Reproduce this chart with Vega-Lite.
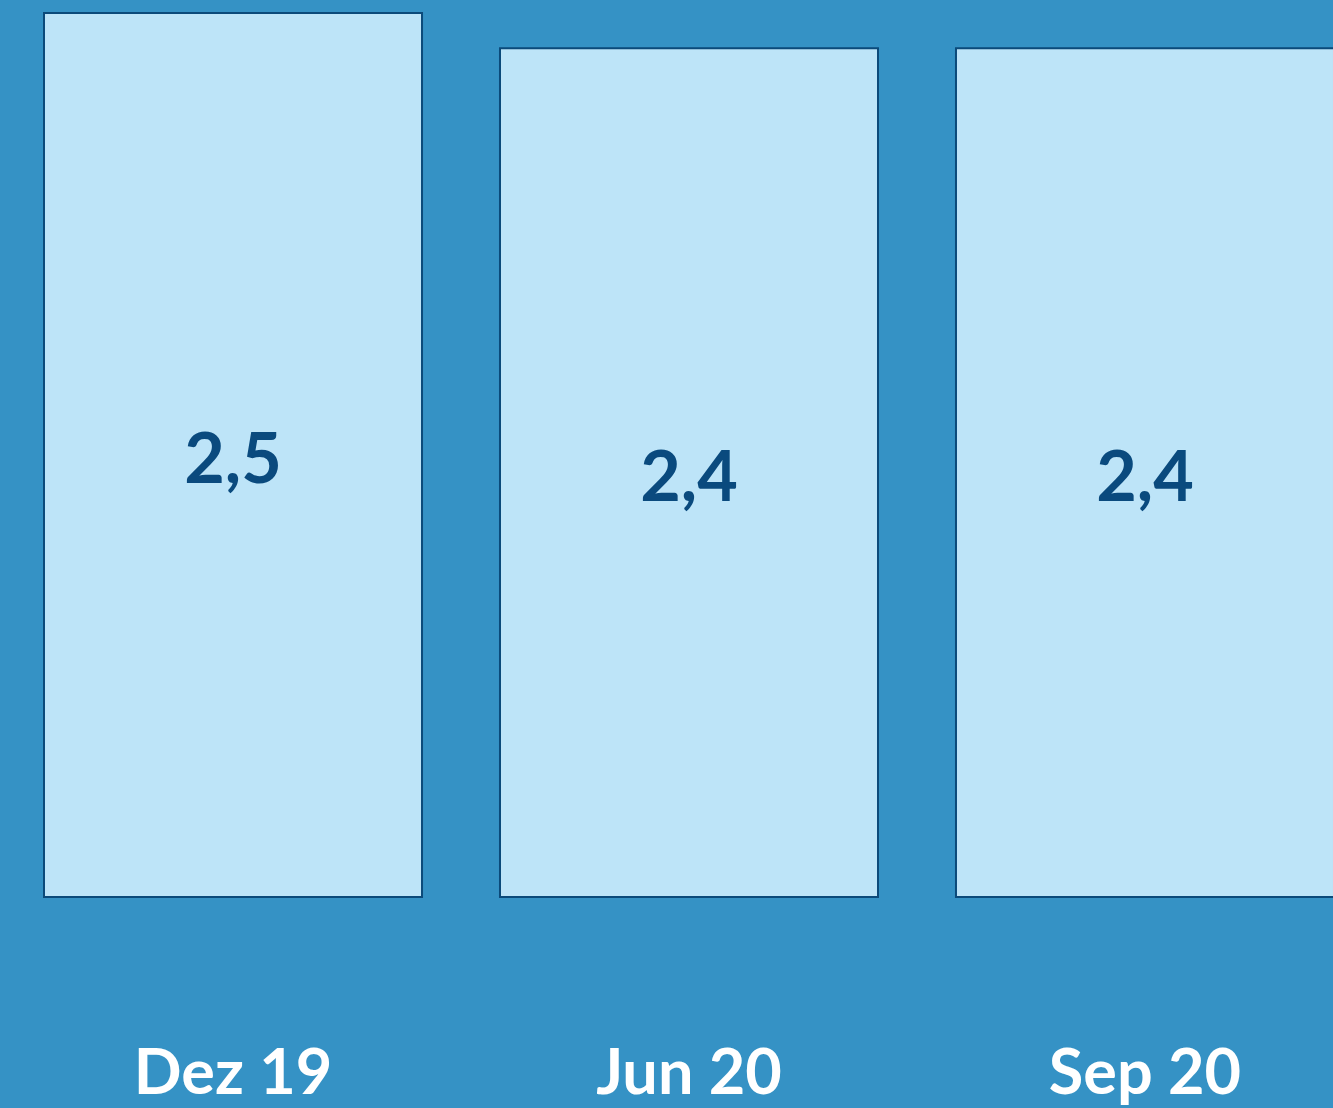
{
  "$schema": "https://vega.github.io/schema/vega-lite/v6.json",
  "autosize": {"type": "none"},
  "width": 1333,
  "height": 897,
  "padding": {"left": 0, "top": 0, "right": 0, "bottom": 211},
  "background": "#3592c5",
  "config": {
    "view": {"stroke": null},
    "locale": {"number": {"decimal": ",", "thousands": ".", "grouping": [3], "currency": ["", " €"]}}
  },
  "data": {"values": [
    {"period": "Dez 19", "value": 2.5},
    {"period": "Jun 20", "value": 2.4},
    {"period": "Sep 20", "value": 2.4}
  ]},
  "encoding": {
    "x": {
      "field": "period", "type": "nominal", "sort": null,
      "scale": {"range": [0, 1378], "paddingInner": 0.171, "paddingOuter": 0.0965},
      "axis": {
        "title": null, "domain": false, "ticks": false, "labelAngle": 0,
        "labelColor": "#ffffff", "labelFont": "Lato", "labelFontWeight": "bold",
        "labelFontSize": 63, "labelBaseline": "alphabetic", "labelPadding": 196,
        "labelLimit": 0, "labelOverlap": false
      }
    }
  },
  "layer": [
    {
      "mark": {"type": "bar", "color": "#bde4f8", "stroke": "#0b4a7a", "strokeWidth": 2},
      "encoding": {
        "y": {"field": "value", "type": "quantitative",
          "scale": {"domain": [0, 2.5368], "nice": false, "zero": true},
          "axis": null}
      }
    },
    {
      "mark": {"type": "text", "color": "#0a4a7e", "font": "Lato", "fontWeight": "bold", "fontSize": 70, "baseline": "middle", "align": "center", "dy": 7},
      "encoding": {
        "y": {"field": "value", "type": "quantitative",
          "scale": {"domain": [0, 5.0736], "nice": false, "zero": true},
          "axis": null},
        "text": {"field": "value", "type": "quantitative", "format": ".1f"}
      }
    }
  ],
  "resolve": {"scale": {"y": "independent"}}
}
